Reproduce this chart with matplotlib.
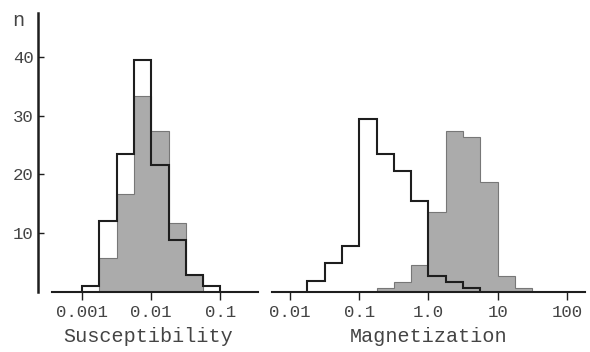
import numpy as np
import matplotlib.pyplot as plt

# log10 bin edges, quarter decades
sus_edges = [-3.0, -2.75, -2.5, -2.25, -2.0, -1.75, -1.5, -1.25, -1.0]
sus_open = [1, 12, 23.5, 39.5, 21.5, 8.7, 2.8, 1]
sus_shaded = [0, 5.7, 16.6, 33.4, 27.4, 11.6, 2.8, 0]

mag_edges = [-1.75, -1.5, -1.25, -1.0, -0.75, -0.5, -0.25, 0.0, 0.25,
             0.5, 0.75, 1.0, 1.25, 1.5]
mag_open = [1.8, 4.8, 7.7, 29.4, 23.4, 20.5, 15.4, 2.6, 1.7, 0.6, 0, 0, 0]
mag_shaded = [0, 0, 0, 0, 0.6, 1.7, 4.6, 13.6, 27.4, 26.4, 18.6, 2.6, 0.6]

sus_ticks = [0.001, 0.01, 0.1]
sus_labels = ['0.001', '0.01', '0.1']
mag_ticks = [0.01, 0.1, 1.0, 10, 100]
mag_labels = ['0.01', '0.1', '1.0', '10', '100']
y_ticks = [10, 20, 30, 40]

font = 'Liberation Mono'
ink = '#1e1e1e'
txt = '#444444'
gray = '#ababab'

W, H = 590, 352
fig = plt.figure(figsize=(W / 100, H / 100), dpi=100)


def px_axes(x0, x1, ytop, ybot):
    return fig.add_axes([x0 / W, 1 - ybot / H, (x1 - x0) / W, (ybot - ytop) / H])


def steps(ax, edges, counts, **kw):
    e = 10 ** np.array(edges)
    c = np.array(counts, dtype=float)
    ax.stairs(c, e, **kw)


def panel(ax, edges, opn, shd, xl, ticks, labels, label):
    ax.set_xscale('log')
    ax.set_xlim(10 ** xl[0], 10 ** xl[1])
    ax.set_ylim(0, 47.5)
    steps(ax, edges, shd, fill=True, facecolor=gray, edgecolor='#777777',
          linewidth=0.8)
    # trim the zero bins at the end so the outline closes where the bars stop
    o = list(opn)
    ed = list(edges)
    while o and o[-1] == 0:
        o.pop()
        ed.pop()
    steps(ax, ed, o, fill=False, edgecolor=ink, linewidth=1.5, baseline=0)
    for s in ['top', 'right']:
        ax.spines[s].set_visible(False)
    ax.spines['bottom'].set_linewidth(1.5)
    ax.spines['bottom'].set_color(ink)
    ax.set_xticks(ticks)
    ax.set_xticklabels(labels, fontfamily=font, fontsize=12.5, color=txt)
    ax.xaxis.set_minor_locator(plt.NullLocator())
    ax.tick_params(axis='x', direction='out', length=6, width=1, color=ink, pad=4)
    ax.set_xlabel(label, fontfamily=font, fontsize=14.5, color=txt, labelpad=5)
    ax.patch.set_visible(False)


# left panel
axL = px_axes(38, 258, 13, 291.5)
lx0 = -3 + (38 - 82) / 69.2
lx1 = -3 + (258 - 82) / 69.2
panel(axL, sus_edges, sus_open, sus_shaded, (lx0, lx1),
      sus_ticks, sus_labels, 'Susceptibility')
axL.spines['bottom'].set_bounds(10 ** (-3 + (52 - 82) / 69.2), 10 ** lx1)
axL.spines['left'].set_linewidth(1.8)
axL.spines['left'].set_color(ink)
axL.set_yticks(y_ticks)
axL.set_yticklabels([str(v) for v in y_ticks], fontfamily=font,
                    fontsize=12.5, color=txt)
axL.tick_params(axis='y', direction='in', length=4, width=1, color=ink, pad=3)
fig.text(18 / W, 1 - 20 / H, 'n', fontfamily=font, fontsize=14.5,
         color=txt, ha='center', va='center')

# right panel
axR = px_axes(272, 585, 13, 291.5)
rx0 = -2 + (272 - 290) / 69.2
rx1 = -2 + (585 - 290) / 69.2
panel(axR, mag_edges, mag_open, mag_shaded, (rx0, rx1),
      mag_ticks, mag_labels, 'Magnetization')
axR.spines['left'].set_visible(False)
axR.set_yticks([])

fig.savefig('out.png', dpi=100)
